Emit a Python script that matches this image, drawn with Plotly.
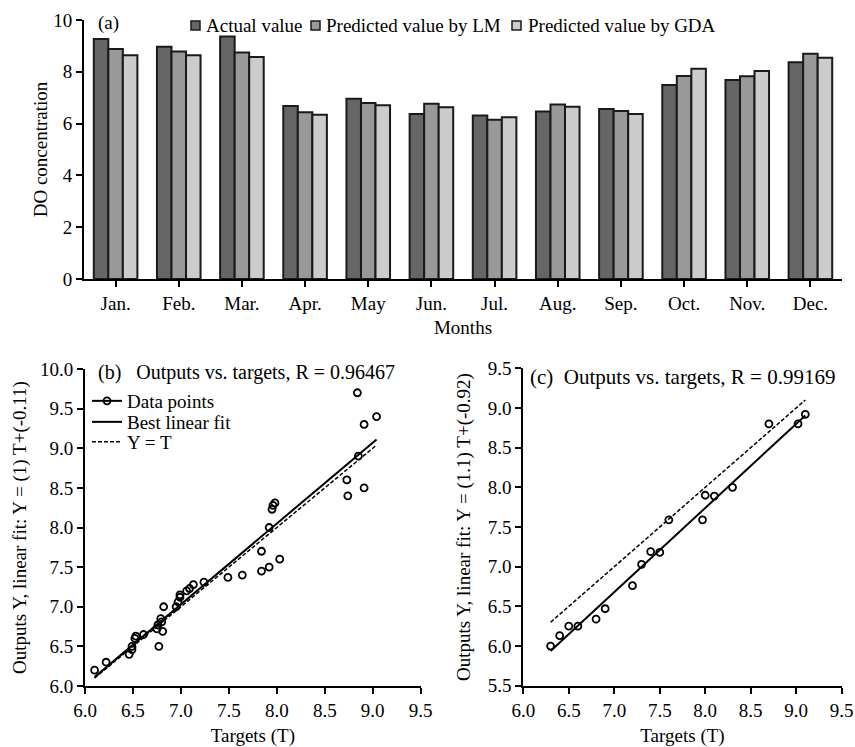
import plotly.graph_objects as go

# ---------------- data ----------------
months = ["Jan.", "Feb.", "Mar.", "Apr.", "May", "Jun.", "Jul.", "Aug.", "Sep.", "Oct.", "Nov.", "Dec."]
actual = [9.27, 8.97, 9.36, 6.68, 6.96, 6.37, 6.31, 6.47, 6.56, 7.49, 7.68, 8.37]
pred_lm = [8.88, 8.78, 8.75, 6.44, 6.80, 6.77, 6.15, 6.74, 6.49, 7.84, 7.83, 8.70]
pred_gda = [8.64, 8.64, 8.57, 6.34, 6.71, 6.63, 6.25, 6.65, 6.37, 8.12, 8.03, 8.54]

# (b) LM regression: targets / outputs
targets_b = [6.10, 6.22, 6.46, 6.49, 6.49, 6.52, 6.53, 6.61, 6.77, 6.75, 6.76, 6.79, 6.80,
             6.81, 6.82, 6.95, 6.97, 6.99, 6.99, 7.06, 7.09, 7.13, 7.24, 7.49, 7.64, 7.84,
             7.84, 7.92, 7.92, 7.95, 7.96, 7.98, 8.03, 8.73, 8.74, 8.84, 8.85, 8.91, 8.91, 9.04]
outputs_b = [6.20, 6.30, 6.40, 6.46, 6.50, 6.60, 6.63, 6.65, 6.50, 6.72, 6.77, 6.85, 6.81,
             6.69, 7.00, 7.00, 7.06, 7.12, 7.15, 7.20, 7.23, 7.28, 7.31, 7.37, 7.40, 7.45,
             7.70, 7.50, 8.00, 8.23, 8.28, 8.31, 7.60, 8.60, 8.40, 9.70, 8.90, 9.30, 8.50, 9.40]
fit_b = (1.02, -0.11)  # slope, intercept of best linear fit

# (c) GDA regression
targets_c = [6.30, 6.40, 6.50, 6.60, 6.80, 6.90, 7.20, 7.30, 7.40, 7.50, 7.60, 7.97, 8.00,
             8.10, 8.30, 8.70, 9.02, 9.10]
outputs_c = [6.00, 6.13, 6.25, 6.25, 6.34, 6.47, 6.76, 7.03, 7.19, 7.18, 7.59, 7.59, 7.90,
             7.89, 8.00, 8.80, 8.80, 8.92]
fit_c = (1.06, -0.74)

series_names = ["Actual value", "Predicted value by LM", "Predicted value by GDA"]
bar_colors = ["#666666", "#999999", "#cccccc"]

FONT = "Liberation Serif"
FS = 19
W, H = 855, 747
EDGE = "#1a1a1a"


def px_x(p):
    return p / W


def px_y(p):
    return 1 - p / H


fig = go.Figure()

# ---------------- (a) bars ----------------
for name, vals, col in zip(series_names, [actual, pred_lm, pred_gda], bar_colors):
    fig.add_trace(go.Bar(x=months, y=vals, name=name, showlegend=False,
                         marker=dict(color=col, line=dict(color=EDGE, width=2)),
                         xaxis="x", yaxis="y"))

# ---------------- (b) scatter ----------------
marker_open = dict(symbol="circle-open", size=7, color="black", line=dict(width=1.8))
fig.add_trace(go.Scatter(x=targets_b, y=outputs_b, mode="markers", showlegend=False,
                         marker=marker_open, xaxis="x2", yaxis="y2"))
fig.add_trace(go.Scatter(x=[None], y=[None], mode="lines+markers", name="Data points",
                         line=dict(color="black", width=2), marker=marker_open,
                         xaxis="x2", yaxis="y2", legend="legend2"))
xb = [min(targets_b), max(targets_b)]
fig.add_trace(go.Scatter(x=xb, y=[fit_b[0] * v + fit_b[1] for v in xb], mode="lines", name="Best linear fit",
                         line=dict(color="black", width=2), xaxis="x2", yaxis="y2", legend="legend3"))
fig.add_trace(go.Scatter(x=xb, y=xb, mode="lines", name="Y = T",
                         line=dict(color="black", width=1.5, dash="4px,2px"), xaxis="x2", yaxis="y2",
                         legend="legend4"))

# ---------------- (c) scatter ----------------
fig.add_trace(go.Scatter(x=targets_c, y=outputs_c, mode="markers", showlegend=False,
                         marker=marker_open, xaxis="x3", yaxis="y3"))
xc = [min(targets_c), max(targets_c)]
fig.add_trace(go.Scatter(x=xc, y=[fit_c[0] * v + fit_c[1] for v in xc], mode="lines", showlegend=False,
                         line=dict(color="black", width=2), xaxis="x3", yaxis="y3"))
fig.add_trace(go.Scatter(x=xc, y=xc, mode="lines", showlegend=False,
                         line=dict(color="black", width=1.5, dash="4px,2px"), xaxis="x3", yaxis="y3"))

axis_common = dict(showline=True, linecolor="black", linewidth=2, ticks="outside", ticklen=6, tickwidth=2,
                   tickcolor="black", showgrid=False, zeroline=False, automargin=False,
                   tickfont=dict(family=FONT, size=FS, color="black"))


def leg(x_px, top_px):
    return dict(orientation="v", x=px_x(x_px), y=px_y(top_px), xanchor="left", yanchor="top",
                bgcolor="rgba(0,0,0,0)", borderwidth=0, font=dict(family=FONT, size=FS), itemwidth=30)


# manual legend for panel (a)
legend_a_pos = [(191, 205), (311, 325), (512, 527)]  # swatch left px, text left px
shapes = []
annotations = []
for (sx, tx), name, col in zip(legend_a_pos, series_names, bar_colors):
    shapes.append(dict(type="rect", xref="paper", yref="paper", x0=px_x(sx), x1=px_x(sx + 9),
                       y0=px_y(30), y1=px_y(21), fillcolor=col, line=dict(color=EDGE, width=1.5)))
    annotations.append(dict(text=name, x=px_x(tx - 1), y=px_y(25.5), xref="paper", yref="paper",
                            xanchor="left", yanchor="middle", showarrow=False,
                            font=dict(family=FONT, size=FS)))

annotations += [
    dict(text="(a)", x=px_x(96), y=px_y(23), xref="paper", yref="paper", xanchor="left", yanchor="middle",
         showarrow=False, font=dict(family=FONT, size=FS)),
    dict(text="(b)\u00a0\u00a0\u00a0Outputs vs. targets, R = 0.96467", x=px_x(96), y=px_y(372),
         xref="paper", yref="paper", xanchor="left", yanchor="middle", showarrow=False,
         font=dict(family=FONT, size=20)),
    dict(text="(c)\u00a0\u00a0Outputs vs. targets, R = 0.99169", x=px_x(528), y=px_y(377),
         xref="paper", yref="paper", xanchor="left", yanchor="middle", showarrow=False,
         font=dict(family=FONT, size=21)),
]

fig.update_layout(
    width=W, height=H, template="none",
    paper_bgcolor="white", plot_bgcolor="white",
    margin=dict(l=0, r=0, t=0, b=0),
    font=dict(family=FONT, size=FS, color="black"),
    barmode="group", bargap=0.31, bargroupgap=0,
    xaxis=dict(axis_common, domain=[px_x(84), px_x(842)], anchor="y", range=[-0.5, 11.5],
               title=dict(text="Months", standoff=8, font=dict(family=FONT, size=FS))),
    yaxis=dict(axis_common, domain=[px_y(279), px_y(20)], anchor="x", range=[0, 10], dtick=2,
               title=dict(text="DO concentration", standoff=1, font=dict(family=FONT, size=FS))),
    xaxis2=dict(axis_common, domain=[px_x(85), px_x(420.7)], anchor="y2", range=[6, 9.5], dtick=0.5,
                tickformat=".1f", title=dict(text="Targets (T)", standoff=12, font=dict(family=FONT, size=FS))),
    yaxis2=dict(axis_common, domain=[px_y(686), px_y(369)], anchor="x2", range=[6, 10], dtick=0.5,
                tickformat=".1f",
                title=dict(text="Outputs Y, linear fit: Y = (1) T+(-0.11)", standoff=8,
                           font=dict(family=FONT, size=FS))),
    xaxis3=dict(axis_common, domain=[px_x(523.3), px_x(841.7)], anchor="y3", range=[6, 9.5], dtick=0.5,
                tickformat=".1f", title=dict(text="Targets (T)", standoff=12, font=dict(family=FONT, size=FS))),
    yaxis3=dict(axis_common, domain=[px_y(685.7), px_y(368.3)], anchor="x3", range=[5.5, 9.5], dtick=0.5,
                tickformat=".1f",
                title=dict(text="Outputs Y, linear fit: Y = (1.1) T+(-0.92)", standoff=12,
                           font=dict(family=FONT, size=FS))),
    legend2=leg(87, 382),
    legend3=leg(87, 403),
    legend4=leg(87, 423),
    shapes=shapes,
    annotations=annotations,
)

fig.write_html("out.html")
